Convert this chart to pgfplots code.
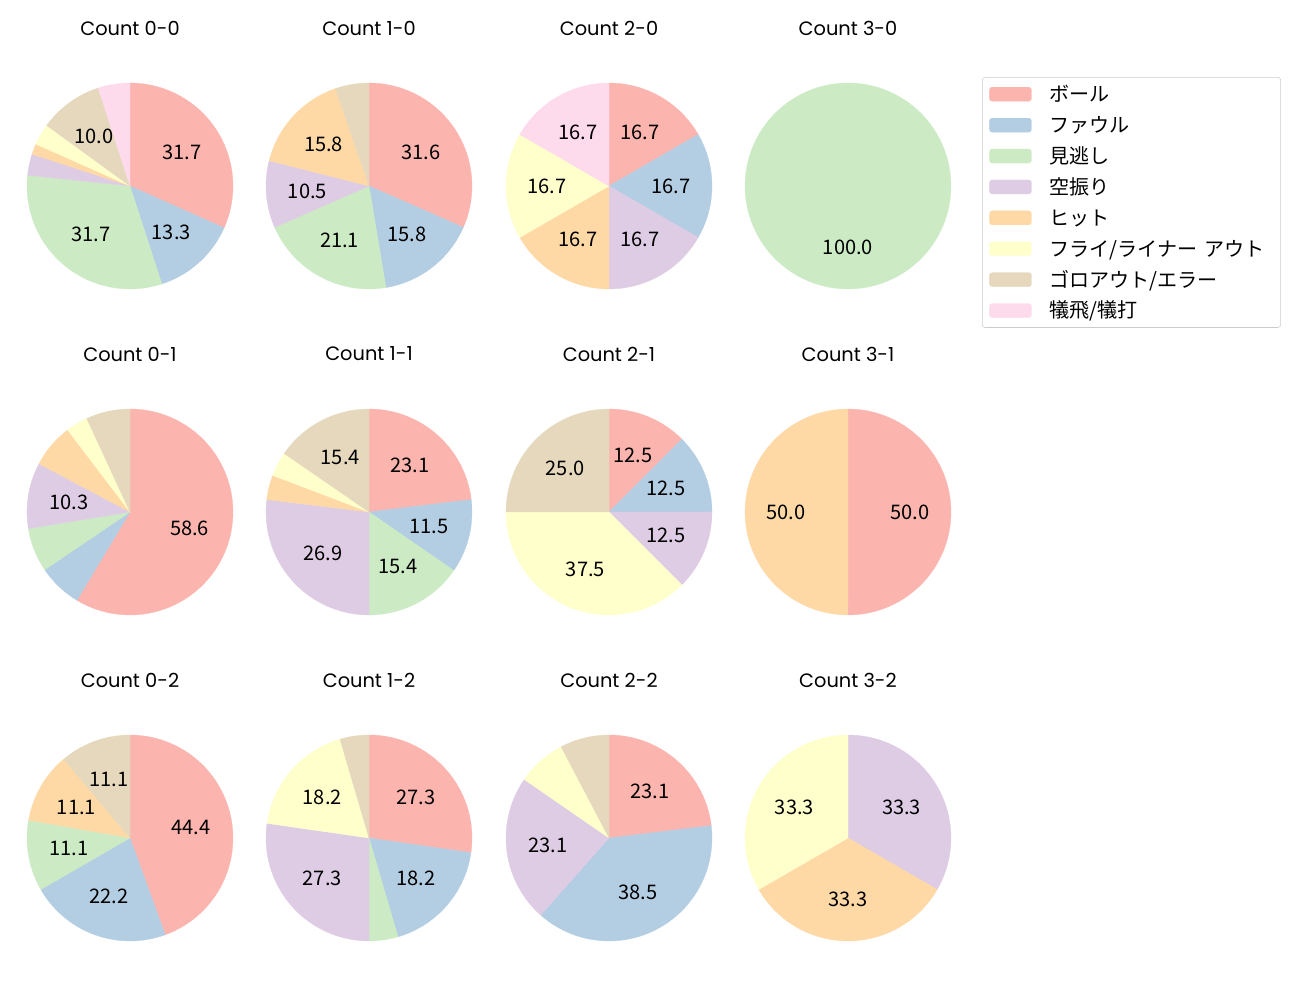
\documentclass[border=0pt]{standalone}
\usepackage{pgfplots}
\pgfplotsset{compat=1.18}
\usepackage{fontspec}
\setmainfont{Poppins}
\newfontfamily\jp{Noto Sans CJK JP}
\definecolor{c1}{HTML}{FBB4AE}
\definecolor{c2}{HTML}{B3CDE3}
\definecolor{c3}{HTML}{CCEBC5}
\definecolor{c4}{HTML}{DECBE4}
\definecolor{c5}{HTML}{FED9A6}
\definecolor{c6}{HTML}{FFFFCC}
\definecolor{c7}{HTML}{E5D8BD}
\definecolor{c8}{HTML}{FDDAEC}
\pgfplotsset{legend image code/.code={\fill[#1] (0in,-0.07in) rectangle (0.42in,0.07in);}}

% #1 x (in), #2 y (in), #3 title, #4 counts (8 categories), #5 extra axis options
\newcommand{\pie}[5]{%
  \xdef\tot{0}%
  \foreach \c in {#4} {\pgfmathparse{\tot+\c}\xdef\tot{\pgfmathresult}}%
  \begin{axis}[at={(#1in,#2in)}, anchor=center, x=1.03in, y=1.03in,
    xmin=-1, xmax=1, ymin=-1, ymax=1, hide axis, clip=false,
    enlargelimits=false, /pgf/number format/assume math mode=true, #5]
    \xdef\cum{0}%
    \foreach \c [count=\i] in {#4} {%
      \ifdim \c pt>0pt
        \pgfmathsetmacro{\aa}{90-360*((\cum+\c)/\tot)}%
        \pgfmathsetmacro{\bb}{90-360*(\cum/\tot)}%
        \pgfmathsetmacro{\mm}{(\aa+\bb)/2}%
        \pgfmathsetmacro{\pp}{100*(\c/\tot)}%
        \pgfmathtruncatemacro{\ns}{max(4,abs(\bb-\aa)/3+2)}%
        \edef\temp{\noexpand\addplot[fill=c\i, draw=c\i, line width=0.2pt,
          domain=\aa:\bb, samples=\ns] ({cos(x)},{sin(x)}) -- (axis cs:0,0) -- cycle;}%
        \temp
        \ifdim \pp pt>8pt
          \edef\temp{\noexpand\node[font=\noexpand\jp\noexpand\fontsize{14.5}{17}\noexpand\selectfont]
            at (axis cs:{0.6*cos(\mm)},{0.6*sin(\mm)})
            {\noexpand\pgfmathprintnumber[fixed,fixed zerofill,precision=1,assume math mode=true]{\pp}};}%
          \temp
        \fi
        \pgfmathparse{\cum+\c}\xdef\cum{\pgfmathresult}%
      \fi
    }
    \node at (axis cs:0,1.534) {#3};
  \end{axis}%
}

\begin{document}
\fontsize{14}{16.8}\selectfont
\begin{tikzpicture}
\path[use as bounding box] (0,0) rectangle (13in,10in);
\pie{1.30}{8.14}{Count 0-0}{19,8,19,2,1,2,6,3}{
  legend entries={ボール,ファウル,見逃し,空振り,ヒット,フライ/ライナー アウト,ゴロアウト/エラー,犠飛/犠打},
  legend style={at={(4.636,1.029)}, anchor=north west, draw=black!20, fill=white,
    rounded corners=2pt, inner xsep=0.07in, inner ysep=0.015in,
    column sep=0.18in, row sep=0pt,
    nodes={inner sep=0pt, text height=0.2285in, text depth=0.0805in, text width=2.24in, align=left},
    cells={anchor=west}, font=\jp\fontsize{14.5}{17}\selectfont}}
\pie{3.69}{8.14}{Count 1-0}{6,3,4,2,3,0,1,0}{}
\pie{6.09}{8.14}{Count 2-0}{1,1,0,1,1,1,0,1}{}
\pie{8.48}{8.14}{Count 3-0}{0,0,1,0,0,0,0,0}{}
\pie{1.30}{4.88}{Count 0-1}{17,2,2,3,2,1,2,0}{}
\pie{3.69}{4.88}{Count 1-1}{6,3,4,7,1,1,4,0}{}
\pie{6.09}{4.88}{Count 2-1}{1,1,0,1,0,3,2,0}{}
\pie{8.48}{4.88}{Count 3-1}{1,0,0,0,1,0,0,0}{}
\pie{1.30}{1.62}{Count 0-2}{4,2,1,0,1,0,1,0}{}
\pie{3.69}{1.62}{Count 1-2}{6,4,1,6,0,4,1,0}{}
\pie{6.09}{1.62}{Count 2-2}{3,5,0,3,0,1,1,0}{}
\pie{8.48}{1.62}{Count 3-2}{0,0,0,1,1,1,0,0}{}
\end{tikzpicture}
\end{document}
